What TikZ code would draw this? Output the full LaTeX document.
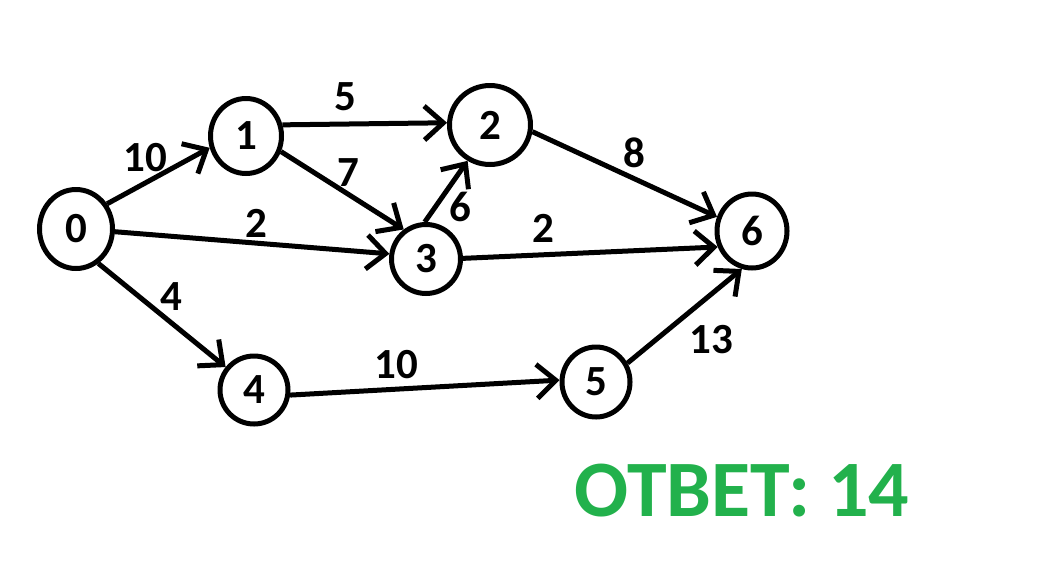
\documentclass[tikz,border=0pt]{standalone}
\usepackage{fontspec}
\setmainfont{Carlito}
\usetikzlibrary{arrows.meta,shapes.geometric}
\definecolor{ansgreen}{RGB}{34,177,76}
\begin{document}
\begin{tikzpicture}[x=1pt,y=-1pt,
  vertex/.style={draw=black,ellipse,line width=5pt,inner sep=0pt,
    font=\fontsize{43}{46}\selectfont\bfseries},
  edge/.style={draw=black,line width=5pt,
    -{Straight Barb[length=19pt,width=34pt]}},
  weight/.style={font=\fontsize{43}{46}\selectfont\bfseries,inner sep=0pt},
]
\useasboundingbox[fill=white] (0,0) rectangle (1040,576);
\node[vertex,minimum width=73pt,minimum height=79pt] (n0) at (76,229) {0};
\node[vertex,minimum width=71pt,minimum height=75pt] (n1) at (246,136) {1};
\node[vertex,minimum width=81pt,minimum height=79pt] (n2) at (490,125) {2};
\node[vertex,minimum width=69pt,minimum height=69pt] (n3) at (426,259) {3};
\node[vertex,minimum width=68pt,minimum height=68pt] (n4) at (254,390) {4};
\node[vertex,minimum width=68pt,minimum height=70pt] (n5) at (596,382) {5};
\node[vertex,minimum width=70pt,minimum height=74pt] (n6) at (752,231) {6};

\draw[edge] (n0.39) -- (n1.198);
\draw[edge] (n0.-4) -- (n3.172);
\draw[edge] (n0.-57) -- (n4.141);
\draw[edge] (n1.17) -- (n2.177);
\draw[edge] (n1.-24) -- (n3.127);
\draw[edge] (n3.92) -- (n2.238);
\draw[edge] (n2.-9) -- (n6.158);
\draw[edge] (n3.1) -- (n6.205);
\draw[edge] (n4.-8) -- (n5.177);
\draw[edge] (n5.31) -- (n6.255);

\node[weight] (w01) at (145,158) {10};
\node[weight] (w03) at (256,223) {2};
\node[weight] (w04) at (171,297) {4};
\node[weight] (w12) at (345,97) {5};
\node[weight] (w13) at (348,173) {7};
\node[weight] (w32) at (460,207) {6};
\node[weight] (w36) at (543,228) {2};
\node[weight] (w26) at (634,153) {8};
\node[weight] (w45) at (396,365) {10};
\node[weight] (w56) at (711,340) {13};

\node[text=ansgreen,font=\fontsize{80}{90}\selectfont\bfseries,inner sep=0pt]
  (answer) at (742,491) {ОТВЕТ: 14};
\end{tikzpicture}
\end{document}
